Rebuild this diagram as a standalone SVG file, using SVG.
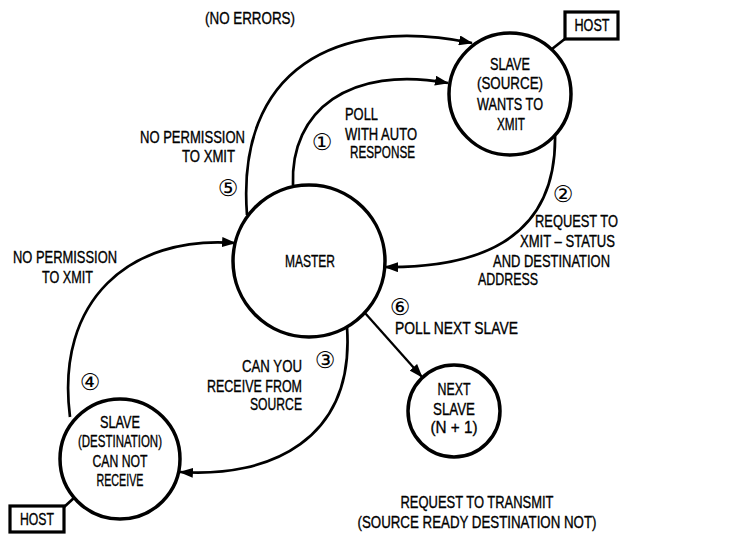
<svg xmlns="http://www.w3.org/2000/svg" width="736" height="535" viewBox="0 0 736 535">
<defs>
<marker id="ah" markerWidth="14" markerHeight="10" refX="13" refY="5" orient="auto" markerUnits="userSpaceOnUse">
<path d="M0,0 L14,5 L0,10 Z" fill="#000"/>
</marker>
<style>
.n{fill:#fff;stroke:#000;stroke-width:3.5}
.h{fill:#fff;stroke:#000;stroke-width:3.2}
.c{fill:none;stroke:#000;stroke-width:2.7}
.t{font-family:"Liberation Sans Narrow","Liberation Sans",Arial,sans-serif;font-size:16.5px;fill:#000;stroke:#000;stroke-width:0.35}
.m{text-anchor:middle}
.d{font-family:"DejaVu Sans","Noto Sans CJK JP",sans-serif;font-size:23px;fill:#000;text-anchor:middle}
</style>
</defs>
<rect width="736" height="535" fill="#fff"/>
<g id="connectors">
<path class="c" d="M247,215 C236,70 335,15 472,43" marker-end="url(#ah)"/>
<path class="c" d="M293,185 C290,110 350,65 448,83" marker-end="url(#ah)"/>
<path class="c" d="M555,133 C558,245 470,268 385,267" marker-end="url(#ah)"/>
<path class="c" d="M70,417 C55,300 130,235 235,243" marker-end="url(#ah)"/>
<path class="c" d="M347,327 C355,440 270,478 180,472" marker-end="url(#ah)"/>
<path class="c" d="M365,313 L422,377" marker-end="url(#ah)" style="stroke-width:2.3"/>
<line class="c" x1="552" y1="49" x2="566" y2="38"/>
<line class="c" x1="63" y1="508" x2="75" y2="497"/>
</g>
<g id="labels">
<text class="t" x="205" y="24" textLength="90" lengthAdjust="spacingAndGlyphs">(NO ERRORS)</text>
<text class="t" x="140" y="143" textLength="105" lengthAdjust="spacingAndGlyphs">NO PERMISSION</text>
<text class="t" x="182" y="162" textLength="53" lengthAdjust="spacingAndGlyphs">TO XMIT</text>
<text class="d" x="228" y="196">⑤</text>
<text class="d" x="322" y="150">①</text>
<text class="t" x="345" y="120" textLength="33" lengthAdjust="spacingAndGlyphs">POLL</text>
<text class="t" x="345" y="140" textLength="72" lengthAdjust="spacingAndGlyphs">WITH AUTO</text>
<text class="t" x="350" y="158" textLength="65" lengthAdjust="spacingAndGlyphs">RESPONSE</text>
<text class="d" x="563" y="202">②</text>
<text class="t" x="535" y="227" textLength="83" lengthAdjust="spacingAndGlyphs">REQUEST TO</text>
<text class="t" x="520" y="247" textLength="95" lengthAdjust="spacingAndGlyphs">XMIT – STATUS</text>
<text class="t" x="493" y="267" textLength="117" lengthAdjust="spacingAndGlyphs">AND DESTINATION</text>
<text class="t" x="478" y="285" textLength="60" lengthAdjust="spacingAndGlyphs">ADDRESS</text>
<text class="d" x="400" y="315">⑥</text>
<text class="t" x="395" y="334" textLength="123" lengthAdjust="spacingAndGlyphs">POLL NEXT SLAVE</text>
<text class="d" x="325" y="368">③</text>
<text class="t" x="242" y="372" textLength="60" lengthAdjust="spacingAndGlyphs">CAN YOU</text>
<text class="t" x="207" y="392" textLength="95" lengthAdjust="spacingAndGlyphs">RECEIVE FROM</text>
<text class="t" x="250" y="410" textLength="52" lengthAdjust="spacingAndGlyphs">SOURCE</text>
<text class="t" x="13" y="263" textLength="104" lengthAdjust="spacingAndGlyphs">NO PERMISSION</text>
<text class="t" x="42" y="283" textLength="51" lengthAdjust="spacingAndGlyphs">TO XMIT</text>
<text class="d" x="90" y="390">④</text>
<text class="t m" x="477" y="508" textLength="153" lengthAdjust="spacingAndGlyphs">REQUEST TO TRANSMIT</text>
<text class="t m" x="477" y="528" textLength="239" lengthAdjust="spacingAndGlyphs">(SOURCE READY DESTINATION NOT)</text>
</g>
<g id="master">
<circle class="n" cx="309" cy="261" r="76"/>
<text class="t m" x="310" y="267" textLength="50" lengthAdjust="spacingAndGlyphs">MASTER</text>
</g>
<g id="slave-source">
<circle class="n" cx="510" cy="94" r="61"/>
<text class="t m" x="510" y="70" textLength="40" lengthAdjust="spacingAndGlyphs">SLAVE</text>
<text class="t m" x="510" y="89" textLength="66" lengthAdjust="spacingAndGlyphs">(SOURCE)</text>
<text class="t m" x="510" y="110" textLength="66" lengthAdjust="spacingAndGlyphs">WANTS TO</text>
<text class="t m" x="511" y="130" textLength="28" lengthAdjust="spacingAndGlyphs">XMIT</text>
</g>
<g id="host-source">
<rect class="h" x="565" y="12" width="53" height="27"/>
<text class="t m" x="592" y="31" textLength="35" lengthAdjust="spacingAndGlyphs">HOST</text>
</g>
<g id="slave-destination">
<circle class="n" cx="120" cy="459" r="60"/>
<text class="t m" x="120" y="428" textLength="40" lengthAdjust="spacingAndGlyphs">SLAVE</text>
<text class="t m" x="120" y="447" textLength="84" lengthAdjust="spacingAndGlyphs">(DESTINATION)</text>
<text class="t m" x="120" y="467" textLength="55" lengthAdjust="spacingAndGlyphs">CAN NOT</text>
<text class="t m" x="120" y="486" textLength="47" lengthAdjust="spacingAndGlyphs">RECEIVE</text>
</g>
<g id="host-destination">
<rect class="h" x="10" y="506" width="54" height="26"/>
<text class="t m" x="37" y="525" textLength="34" lengthAdjust="spacingAndGlyphs">HOST</text>
</g>
<g id="next-slave">
<circle class="n" cx="454" cy="411" r="46"/>
<text class="t m" x="454" y="395" textLength="33" lengthAdjust="spacingAndGlyphs">NEXT</text>
<text class="t m" x="454" y="415" textLength="42" lengthAdjust="spacingAndGlyphs">SLAVE</text>
<text class="t m" x="454" y="433" textLength="47" lengthAdjust="spacingAndGlyphs">(N + 1)</text>
</g>
</svg>
